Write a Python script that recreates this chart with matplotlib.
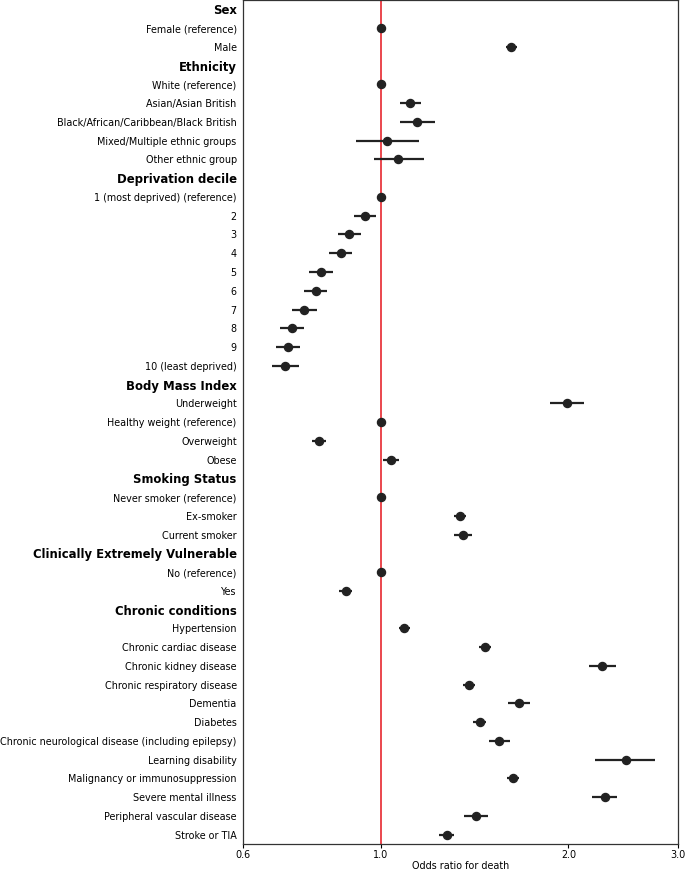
import numpy as np
import matplotlib.pyplot as plt
from matplotlib.ticker import NullLocator

plt.rcParams['font.family'] = ['DejaVu Sans']
plt.rcParams.update({'font.size': 6.9})

# rows of the forest plot, top to bottom (headers have no estimate)
labels = [
    "Sex", "Female (reference)", "Male",
    "Ethnicity", "White (reference)", "Asian/Asian British",
    "Black/African/Caribbean/Black British", "Mixed/Multiple ethnic groups",
    "Other ethnic group",
    "Deprivation decile", "1 (most deprived) (reference)", "2", "3", "4", "5",
    "6", "7", "8", "9", "10 (least deprived)",
    "Body Mass Index", "Underweight", "Healthy weight (reference)",
    "Overweight", "Obese",
    "Smoking Status", "Never smoker (reference)", "Ex-smoker", "Current smoker",
    "Clinically Extremely Vulnerable", "No (reference)", "Yes",
    "Chronic conditions", "Hypertension", "Chronic cardiac disease",
    "Chronic kidney disease", "Chronic respiratory disease", "Dementia",
    "Diabetes", "Chronic neurological disease (including epilepsy)",
    "Learning disability", "Malignancy or immunosuppression",
    "Severe mental illness", "Peripheral vascular disease", "Stroke or TIA",
]
headers = ["Sex", "Ethnicity", "Deprivation decile", "Body Mass Index",
           "Smoking Status", "Clinically Extremely Vulnerable", "Chronic conditions"]

nan = np.nan
odds = [nan, 1.0, 1.62,
        nan, 1.0, 1.113, 1.141, 1.021, 1.065,
        nan, 1.0, 0.943, 0.888, 0.862, 0.800, 0.785, 0.753, 0.719, 0.709, 0.701,
        nan, 1.99, 1.0, 0.796, 1.038,
        nan, 1.0, 1.340, 1.353,
        nan, 1.0, 0.878,
        nan, 1.090, 1.468, 2.267, 1.382, 1.666, 1.440, 1.546, 2.471, 1.632,
        2.289, 1.419, 1.274]
lower = [nan, 1.0, 1.587,
         nan, 1.0, 1.071, 1.071, 0.911, 0.973,
         nan, 1.0, 0.905, 0.854, 0.826, 0.767, 0.752, 0.720, 0.688, 0.679, 0.668,
         nan, 1.870, 1.0, 0.774, 1.008,
         nan, 1.0, 1.310, 1.312,
         nan, 1.0, 0.857,
         nan, 1.067, 1.438, 2.158, 1.353, 1.600, 1.407, 1.489, 2.210, 1.596,
         2.186, 1.357, 1.237]
upper = [nan, 1.0, 1.654,
         nan, 1.0, 1.160, 1.220, 1.150, 1.173,
         nan, 1.0, 0.981, 0.928, 0.898, 0.836, 0.820, 0.788, 0.751, 0.742, 0.738,
         nan, 2.120, 1.0, 0.817, 1.069,
         nan, 1.0, 1.371, 1.398,
         nan, 1.0, 0.898,
         nan, 1.115, 1.500, 2.383, 1.414, 1.738, 1.473, 1.609, 2.755, 1.668,
         2.396, 1.483, 1.312]

odds = np.array(odds)
lower = np.array(lower)
upper = np.array(upper)
y = np.arange(len(labels))

fig = plt.figure(figsize=(6.85, 8.72), dpi=100)
ax = fig.add_axes([0.3547, 0.032, 0.6351, 0.968])

ax.axvline(1.0, color='#e8383f', lw=1.3, zorder=1)
ax.hlines(y, lower, upper, color='#222222', lw=1.6, zorder=2)
ax.plot(odds, y, 'o', color='#222222', ms=5.8, zorder=3)

ax.set_xscale('log')
ax.set_xlim(0.6, 3.0)
ax.xaxis.set_minor_locator(NullLocator())
ax.set_xticks([0.6, 1.0, 2.0, 3.0])
ax.set_xticklabels(['0.6', '1.0', '2.0', '3.0'])
ax.set_xlabel('Odds ratio for death', labelpad=0.5)

ax.set_ylim(len(labels) - 0.5, -0.5)
ax.set_yticks(y)
ax.set_yticklabels(labels)
for t in ax.get_yticklabels():
    if t.get_text() in headers:
        t.set_fontweight('bold')
        t.set_fontsize(8.4)
ax.tick_params(axis='y', length=0, pad=4.5)
ax.tick_params(axis='x', length=3, pad=1.5)

for s in ax.spines.values():
    s.set_color('#333333')
    s.set_linewidth(0.9)

plt.savefig('out.png', dpi=100)
plt.close()
